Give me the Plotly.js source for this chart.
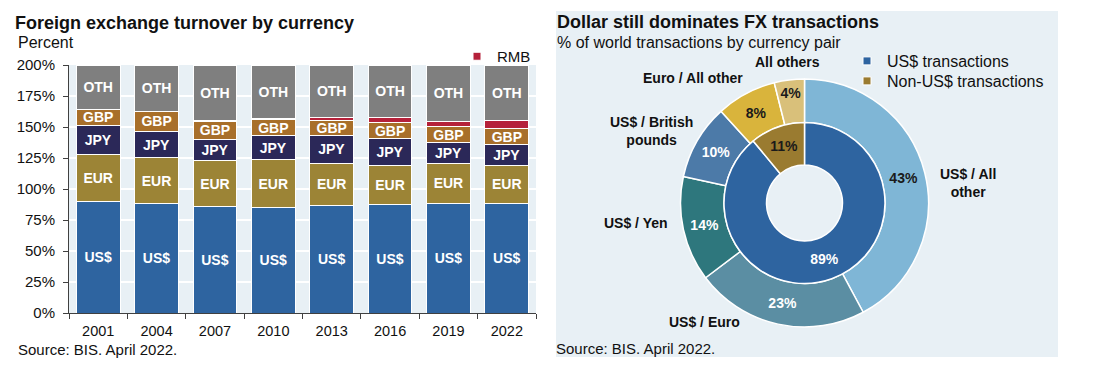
<!DOCTYPE html>
<html><head><meta charset="utf-8">
<script src="https://cdn.plot.ly/plotly-3.0.1.min.js"></script>
<style>html,body{margin:0;padding:0;background:#fff}#chart{width:1101px;height:367px}</style>
</head><body><div id="chart"></div>
<script>
// ---- Left chart data: share of turnover (sums to 200%) ----
const years = ['2001','2004','2007','2010','2013','2016','2019','2022'];
const usd = [89.9, 88.0, 85.6, 84.9, 87.0, 87.6, 88.3, 88.5];
const eur = [37.9, 37.4, 37.0, 39.0, 33.4, 31.4, 32.3, 30.5];
const jpy = [23.5, 20.8, 17.2, 19.0, 23.0, 21.6, 16.8, 16.7];
const gbp = [13.0, 16.5, 14.9, 12.9, 11.8, 12.8, 12.8, 12.9];
const rmb = [0.0, 0.1, 0.5, 0.9, 2.2, 4.0, 4.3, 7.0];
const oth = [35.7, 37.2, 44.8, 43.3, 42.6, 42.6, 45.5, 44.4];
const yTickVals = [0, 25, 50, 75, 100, 125, 150, 175, 200];
const yTickText = ['0%','25%','50%','75%','100%','125%','150%','175%','200%'];

// ---- Right chart data ----
const pairLabels = ['US$ / All other', 'US$ / Euro', 'US$ / Yen', 'US$ / British pounds', 'Euro / All other', 'All others'];
const pairShares = [43, 23, 14, 10, 8, 4];
const groupLabels = ['US$ transactions', 'Non-US$ transactions'];
const groupShares = [89, 11];

// ---- styling ----
const W = 1101, H = 367;
const FONT = 'Liberation Sans, Arial, sans-serif';
const BG = '#E8F0F5';
const px = x => x / W;
const py = y => 1 - y / H;

const series = [
  {name: 'US$', v: usd, c: '#2E64A0', label: true},
  {name: 'EUR', v: eur, c: '#9C8436', label: true},
  {name: 'JPY', v: jpy, c: '#2B2858', label: true},
  {name: 'GBP', v: gbp, c: '#A86F2A', label: true},
  {name: 'RMB', v: rmb, c: '#B5213A', label: false},
  {name: 'OTH', v: oth, c: '#7F7F7F', label: true}
];

const traces = series.map(s => ({
  type: 'bar', x: years, y: s.v, name: s.name,
  marker: {color: s.c, line: {color: '#ffffff', width: 1}},
  text: s.label ? years.map(() => s.name) : undefined,
  textposition: s.label ? 'inside' : 'none',
  insidetextanchor: 'middle',
  textangle: 0,
  textfont: {family: FONT, size: 14, color: '#ffffff', weight: 'bold'},
  hoverinfo: 'x+y+name',
  showlegend: false, xaxis: 'x', yaxis: 'y'
}));

// legend entries (small square markers)
traces.push({type: 'scatter', mode: 'markers', x: [null], y: [null], name: 'RMB',
  marker: {symbol: 'square', size: 8, color: '#B5213A', line: {color: '#fff', width: 1}},
  showlegend: true, legend: 'legend2', xaxis: 'x', yaxis: 'y'});
const groupColors = ['#2E64A0', '#9A7B30'];
const groupLegends = ['legend', 'legend3'];
groupLabels.forEach((g, i) => traces.push({type: 'scatter', mode: 'markers', x: [null], y: [null], name: g,
  marker: {symbol: 'square', size: 8, color: groupColors[i], line: {color: '#fff', width: 1}},
  showlegend: true, legend: groupLegends[i], xaxis: 'x', yaxis: 'y'}));

// outer ring
const pairColors = ['#7FB6D6', '#5B8EA3', '#2E777D', '#4C7AA8', '#D9B43C', '#D9C07A'];
const pairTextColors = ['#1a1a1a', '#ffffff', '#ffffff', '#ffffff', '#1a1a1a', '#1a1a1a'];
traces.push({
  type: 'pie', labels: pairLabels, values: pairShares, sort: false, direction: 'clockwise', rotation: 0,
  hole: 0.649, domain: {x: [px(680.5), px(928.5)], y: [py(327), py(79)]},
  marker: {colors: pairColors, line: {color: '#ffffff', width: 1.5}},
  texttemplate: '%{value}%', textposition: 'inside', insidetextorientation: 'horizontal',
  textfont: {family: FONT, size: 14, color: pairTextColors, weight: 'bold'},
  showlegend: false, hoverinfo: 'label+value'
});
// inner ring
traces.push({
  type: 'pie', labels: groupLabels, values: groupShares, sort: false, direction: 'clockwise', rotation: 0,
  hole: 0.472, domain: {x: [px(724), px(885)], y: [py(283.5), py(122.5)]},
  marker: {colors: groupColors, line: {color: '#ffffff', width: 1.5}},
  texttemplate: '%{value}%', textposition: 'inside', insidetextorientation: 'horizontal',
  textfont: {family: FONT, size: 14, color: ['#ffffff', '#1a1a1a'], weight: 'bold'},
  showlegend: false, hoverinfo: 'label+value'
});

// outer ring label positions (px) and line breaks
const pairLabelPos = [[968, 183], [704, 322], [636, 223], [651, 131], [693, 78], [787, 62]];
const pairLabelText = pairLabels.map(l => l.replace('US$ / All other', 'US$ / All<br>other').replace('British pounds', 'British<br>pounds'));

const annotations = [
  {text: 'Percent', x: px(16), y: py(42.5), xanchor: 'left', yanchor: 'middle', font: {size: 16}},
  {text: 'Source: BIS. April 2022.', x: px(16), y: py(349), xanchor: 'left', yanchor: 'middle', font: {size: 15}},
  {text: 'Dollar still dominates FX transactions', x: px(555), y: py(22), xanchor: 'left', yanchor: 'middle', font: {size: 18, weight: 'bold'}},
  {text: '% of world transactions by currency pair', x: px(555), y: py(42), xanchor: 'left', yanchor: 'middle', font: {size: 16}},
  {text: 'Source: BIS. April 2022.', x: px(554), y: py(348), xanchor: 'left', yanchor: 'middle', font: {size: 15}}
].concat(pairLabelText.map((t, i) => ({
  text: t, x: px(pairLabelPos[i][0]), y: py(pairLabelPos[i][1]), xanchor: 'center', yanchor: 'middle',
  align: 'center', font: {size: 14, weight: 'bold'}
}))).map(a => Object.assign({xref: 'paper', yref: 'paper', showarrow: false}, a, {font: Object.assign({family: FONT, color: '#111'}, a.font)}));

const legendBase = {xanchor: 'left', yanchor: 'top', bgcolor: 'rgba(0,0,0,0)', itemwidth: 30, traceorder: 'normal'};

const layout = {
  width: W, height: H,
  margin: {l: 0, r: 0, t: 0, b: 0},
  paper_bgcolor: '#ffffff', plot_bgcolor: BG,
  font: {family: FONT, color: '#111'},
  title: {text: 'Foreign exchange turnover by currency', x: px(15), xanchor: 'left', y: py(23), yanchor: 'middle',
    xref: 'paper', yref: 'paper', font: {family: FONT, size: 18, weight: 'bold', color: '#111'}},
  barmode: 'stack', bargap: 0.25,
  xaxis: {domain: [px(69), px(536)], type: 'category', showgrid: false, zeroline: false,
    showline: true, linecolor: '#404040', linewidth: 1, ticks: 'outside', tickson: 'boundaries',
    ticklen: 5, tickcolor: '#404040', ticklabelstandoff: 5, tickfont: {size: 14.5, color: '#111'}, fixedrange: true},
  yaxis: {domain: [py(313), py(65)], range: [0, 200], tickvals: yTickVals, ticktext: yTickText,
    showgrid: true, gridcolor: '#ffffff', gridwidth: 1.5, zeroline: false,
    showline: true, linecolor: '#404040', linewidth: 1, ticks: 'outside', ticklen: 5, tickcolor: '#404040',
    ticklabelstandoff: 5, tickfont: {size: 15, color: '#111'}, fixedrange: true},
  legend: Object.assign({x: px(847), y: py(44), font: {size: 16, color: '#111'}}, legendBase),
  legend3: Object.assign({x: px(847), y: py(64), font: {size: 16, color: '#111'}}, legendBase),
  legend2: Object.assign({x: px(457), y: py(40), font: {size: 15, color: '#111'}}, legendBase),
  uniformtext: {mode: 'show', minsize: 14},
  shapes: [{type: 'rect', xref: 'paper', yref: 'paper', x0: px(556), x1: px(1058), y0: py(357), y1: py(11),
    fillcolor: BG, line: {width: 0}, layer: 'below'}],
  annotations: annotations
};

Plotly.newPlot('chart', traces, layout, {displayModeBar: false, staticPlot: true});
</script></body></html>
